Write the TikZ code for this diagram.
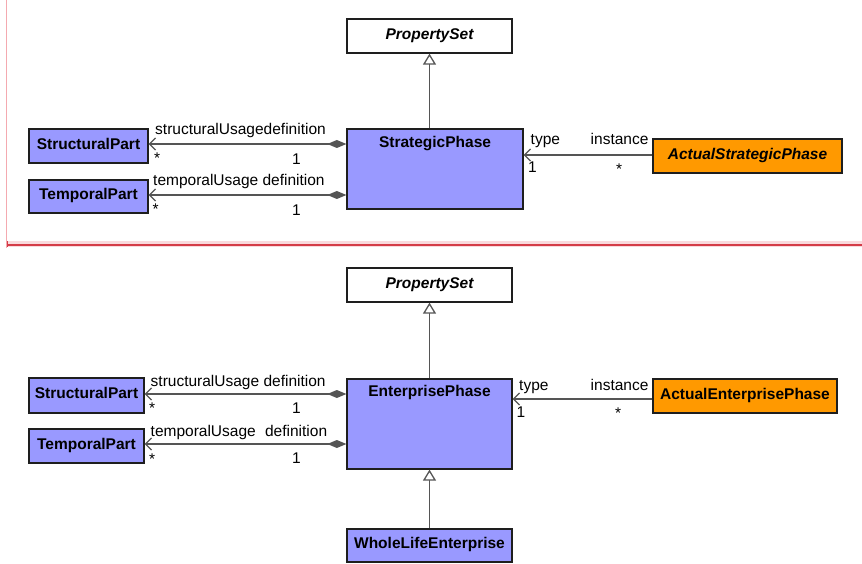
\documentclass[tikz,border=0pt]{standalone}
\usepackage{fontspec}
\setmainfont{Liberation Sans}
\usetikzlibrary{arrows.meta}
\definecolor{classblue}{HTML}{9999FF}
\definecolor{classorange}{HTML}{FF9900}
\definecolor{linegrey}{HTML}{555555}
\definecolor{edgedark}{HTML}{1E1E1E}
\definecolor{pinkline}{HTML}{F4AAB0}
\definecolor{pinkband}{HTML}{F9DADD}
\definecolor{redline}{HTML}{D43C48}
\begin{document}
\begin{tikzpicture}[x=1pt,y=-1pt,
  font=\fontsize{15.5}{18}\selectfont,
  box/.style={draw=edgedark, line width=1.3pt, inner sep=0pt,
    text height=10.5pt, text depth=4pt,
    font=\fontsize{15.5}{18}\selectfont\bfseries},
  whitebox/.style={box, fill=white, font=\fontsize{15.5}{18}\selectfont\bfseries\itshape},
  bluebox/.style={box, fill=classblue},
  orangebox/.style={box, fill=classorange},
  boxtitle/.style={anchor=base, inner sep=0pt, font=\fontsize{15.5}{18}\selectfont\bfseries},
  assoc/.style={draw=linegrey, line width=1.3pt,
    {Diamond[length=19pt,width=8pt,fill=linegrey]}-{Straight Barb[length=6pt,width=12pt]}},
  inst/.style={draw=linegrey, line width=1.3pt, -{Straight Barb[length=6pt,width=12pt]}},
  gen/.style={draw=linegrey, line width=1.3pt, -{Triangle[open,length=11pt,width=13pt,fill=white]}},
  lbl/.style={anchor=base west, inner sep=0pt, text=black}
]
\useasboundingbox (0,0) rectangle (862,564);

% frame decoration
\fill[pinkband] (6,241) rectangle (862,247);
\draw[pinkline, line width=1.5pt] (6.3,0) -- (6.3,248);
\draw[redline, line width=1.2pt] (7,245) -- (862,245);
\draw[redline, line width=1pt] (7.3,241) -- (7.3,247);

% ---------------- top diagram ----------------
\node[whitebox, minimum width=165pt, minimum height=34pt] (ps1) at (429.5,36) {PropertySet};
\node[bluebox, minimum width=176pt, minimum height=80pt] (sp) at (435,169) {};
\node[boxtitle, yshift=-19pt] (spt) at (sp.north) {StrategicPhase};
\node[bluebox, minimum width=119pt, minimum height=34pt] (s1) at (88.5,146) {StructuralPart};
\node[bluebox, minimum width=119pt, minimum height=33pt] (t1) at (88.5,196.5) {TemporalPart};
\node[orangebox, font=\fontsize{15.5}{18}\selectfont\bfseries\itshape, minimum width=189pt, minimum height=34pt] (a1) at (747.5,156) {ActualStrategicPhase};

\draw[gen] (sp.north -| ps1.south) -- (ps1.south);
\coordinate (c1) at ([yshift=2pt]s1.east);
\coordinate (c2) at ([yshift=1.5pt]t1.east);
\coordinate (c3) at ([yshift=1pt]a1.west);
\draw[assoc] (sp.west |- c1) -- (c1);
\draw[assoc] (sp.west |- c2) -- (c2);
\draw[inst] (c3) -- (sp.east |- c3);

\node[lbl] (l1) at (155,135) {structuralUsagedefinition};
\node[lbl] (l2) at (154,164) {*};
\node[lbl] (l3) at (292,165) {1};
\node[lbl] (l4) at (153,186) {temporalUsage definition};
\node[lbl] (l5) at (152.5,214.5) {*};
\node[lbl] (l6) at (292,215) {1};
\node[lbl] (l7) at (530.5,145) {type};
\node[lbl] (l8) at (590.5,145) {instance};
\node[lbl] (l9) at (528,173) {1};
\node[lbl] (l10) at (616,174.5) {*};

% ---------------- bottom diagram ----------------
\node[whitebox, minimum width=165pt, minimum height=34pt] (ps2) at (429.5,285) {PropertySet};
\node[bluebox, minimum width=165pt, minimum height=90pt] (ep) at (429.5,424) {};
\node[boxtitle, yshift=-17.7pt] (ept) at (ep.north) {EnterprisePhase};
\node[bluebox, minimum width=115pt, minimum height=35pt] (s2) at (86.5,395.5) {StructuralPart};
\node[bluebox, minimum width=115pt, minimum height=34pt] (t2) at (86.5,446) {TemporalPart};
\node[orangebox, minimum width=184pt, minimum height=34pt] (a2) at (745,396) {ActualEnterprisePhase};
\node[bluebox, minimum width=165pt, minimum height=33pt] (wl) at (429.5,545.5) {WholeLifeEnterprise};

\draw[gen] (ep.north) -- (ps2.south);
\draw[gen] (wl.north) -- (ep.south);
\coordinate (d1) at ([yshift=1.5pt]s2.east);
\coordinate (d2) at ([yshift=2pt]t2.east);
\coordinate (d3) at ([yshift=-3pt]a2.west);
\draw[assoc] (ep.west |- d1) -- (d1);
\draw[assoc] (ep.west |- d2) -- (d2);
\draw[inst] (d3) -- (ep.east |- d3);

\node[lbl] (m1) at (150.5,386) {structuralUsage definition};
\node[lbl] (m2) at (149,413) {*};
\node[lbl] (m3) at (292,413) {1};
\node[lbl] (m4) at (150.5,436) {temporalUsage\hspace{5pt} definition};
\node[lbl] (m5) at (149,464.5) {*};
\node[lbl] (m6) at (292,463) {1};
\node[lbl] (m7) at (519,390) {type};
\node[lbl] (m8) at (590.5,390) {instance};
\node[lbl] (m9) at (516.5,417) {1};
\node[lbl] (m10) at (615,418.5) {*};
\end{tikzpicture}
\end{document}
